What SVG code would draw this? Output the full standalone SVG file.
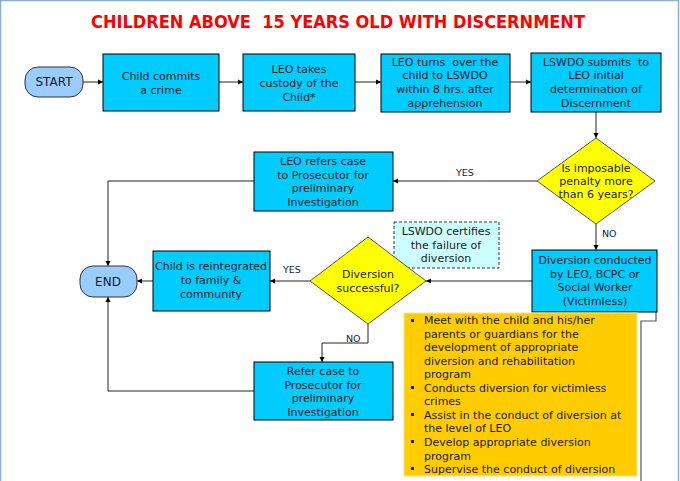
<svg xmlns="http://www.w3.org/2000/svg" width="680" height="481" viewBox="0 0 680 481">
<defs>
<marker id="ah" markerWidth="6" markerHeight="6" refX="5" refY="3" orient="auto" markerUnits="userSpaceOnUse">
<path d="M0,0.5 L5,3 L0,5.5 z" fill="#000"/>
</marker>
<style>
.box{fill:#00CCFF;stroke:#000;stroke-width:1}
.term{fill:#99CCFF;stroke:#333;stroke-width:1}
.dia{fill:#FFFF00;stroke:#555;stroke-width:1}
.note{fill:#CCFFFF;stroke:#333;stroke-width:1;stroke-dasharray:3,2}
.t{font-family:"DejaVu Sans",Verdana,sans-serif;font-size:11px;fill:#1a1a1a;text-anchor:middle}
.tl{font-family:"DejaVu Sans",Verdana,sans-serif;font-size:11px;fill:#1a1a1a}
.lb{font-family:"DejaVu Sans",Verdana,sans-serif;font-size:9.5px;fill:#1a1a40}
.c{fill:none;stroke:#222;stroke-width:1}
</style>
</defs>
<rect width="680" height="481" fill="#fff"/>
<path d="M0.5,481 V0.5 H678.5 V481" fill="none" stroke="#8AAEDB" stroke-width="1.5"/>
<text x="338" y="28" font-family="DejaVu Sans,Verdana,sans-serif" font-weight="bold" font-size="17" fill="#FF0000" text-anchor="middle" textLength="494" lengthAdjust="spacingAndGlyphs" xml:space="preserve">CHILDREN ABOVE  15 YEARS OLD WITH DISCERNMENT</text>

<g id="connectors">
<path class="c" d="M83,82 H103" marker-end="url(#ah)"/>
<path class="c" d="M219,82 H243" marker-end="url(#ah)"/>
<path class="c" d="M355,82 H381" marker-end="url(#ah)"/>
<path class="c" d="M510,82 H531" marker-end="url(#ah)"/>
<path class="c" d="M596,112 V138" marker-end="url(#ah)"/>
<path class="c" d="M537,181 H393" marker-end="url(#ah)"/>
<path class="c" d="M596,224 V250" marker-end="url(#ah)"/>
<path class="c" d="M254,181 H108 V266" marker-end="url(#ah)"/>
<path class="c" d="M532,281 H426" marker-end="url(#ah)"/>
<path class="c" d="M310,281 H270" marker-end="url(#ah)"/>
<path class="c" d="M153,281 H137" marker-end="url(#ah)"/>
<path class="c" d="M368,324 V343 H322 V362" marker-end="url(#ah)"/>
<path class="c" d="M254,391 H108 V297" marker-end="url(#ah)"/>
<path d="M656,312 V321 H641 V481" fill="none" stroke="#555" stroke-width="1.2"/>
<text class="lb" x="456" y="176">YES</text>
<text class="lb" x="602" y="237">NO</text>
<text class="lb" x="283" y="273">YES</text>
<text class="lb" x="346" y="342">NO</text>
</g>

<g id="start">
<rect class="term" x="25" y="67" width="58" height="30" rx="13"/>
<text class="t" x="54" y="86" style="font-size:12px">START</text>
</g>
<g id="child-commits">
<rect class="box" x="103" y="54" width="116" height="57"/>
<text class="t" x="161" y="80">Child commits</text>
<text class="t" x="161" y="94">a crime</text>
</g>
<g id="leo-custody">
<rect class="box" x="243" y="54" width="112" height="57"/>
<text class="t" x="299" y="73">LEO takes</text>
<text class="t" x="299" y="87">custody of the</text>
<text class="t" x="299" y="101">Child*</text>
</g>
<g id="leo-turns">
<rect class="box" x="381" y="54" width="129" height="58"/>
<text class="t" x="445" y="66" xml:space="preserve">LEO turns  over the</text>
<text class="t" x="445" y="79">child to LSWDO</text>
<text class="t" x="445" y="93">within 8 hrs. after</text>
<text class="t" x="445" y="107">apprehension</text>
</g>
<g id="lswdo-submits">
<rect class="box" x="531" y="53" width="130" height="59"/>
<text class="t" x="596" y="66" xml:space="preserve">LSWDO submits  to</text>
<text class="t" x="596" y="79">LEO initial</text>
<text class="t" x="596" y="93">determination of</text>
<text class="t" x="596" y="107">Discernment</text>
</g>
<g id="penalty-decision">
<polygon class="dia" points="596,138 655,181 596,224 537,181"/>
<text class="t" x="596" y="172">Is imposable</text>
<text class="t" x="596" y="185">penalty more</text>
<text class="t" x="596" y="198">than 6 years?</text>
</g>
<g id="leo-refers">
<rect class="box" x="254" y="152" width="139" height="59"/>
<text class="t" x="323" y="165">LEO refers case</text>
<text class="t" x="323" y="179">to Prosecutor for</text>
<text class="t" x="323" y="192">preliminary</text>
<text class="t" x="323" y="206">Investigation</text>
</g>
<g id="diversion">
<rect class="box" x="532" y="250" width="125" height="62"/>
<text class="t" x="595" y="264">Diversion conducted</text>
<text class="t" x="595" y="278">by LEO, BCPC or</text>
<text class="t" x="595" y="291">Social Worker</text>
<text class="t" x="595" y="305">(Victimless)</text>
</g>
<g id="lswdo-certifies">
<rect class="note" x="394" y="222" width="105" height="46"/>
<text class="t" x="446" y="235">LSWDO certifies</text>
<text class="t" x="446" y="249">the failure of</text>
<text class="t" x="446" y="262">diversion</text>
</g>
<g id="diversion-decision">
<polygon class="dia" points="368,237 426,281 368,324 310,281"/>
<text class="t" x="368" y="278">Diversion</text>
<text class="t" x="368" y="292">successful?</text>
</g>
<g id="reintegrated">
<rect class="box" x="153" y="251" width="117" height="60"/>
<text class="t" x="211" y="270">Child is reintegrated</text>
<text class="t" x="211" y="284">to family &amp;</text>
<text class="t" x="211" y="298">community</text>
</g>
<g id="end">
<rect class="term" x="80" y="266" width="57" height="31" rx="13"/>
<text class="t" x="108" y="286" style="font-size:12px">END</text>
</g>
<g id="refer-case">
<rect class="box" x="254" y="362" width="139" height="58"/>
<text class="t" x="323" y="375">Refer case to</text>
<text class="t" x="323" y="389">Prosecutor for</text>
<text class="t" x="323" y="402">preliminary</text>
<text class="t" x="323" y="416">Investigation</text>
</g>
<g id="duties">
<rect x="404" y="313" width="233" height="163" fill="#FFCC00" stroke="#FFE680" stroke-width="1"/>
<g fill="#1a1a1a">
<rect x="411" y="319" width="3" height="3"/>
<rect x="411" y="386" width="3" height="3"/>
<rect x="411" y="413" width="3" height="3"/>
<rect x="411" y="440" width="3" height="3"/>
<rect x="411" y="467" width="3" height="3"/>
</g>
<text class="tl" x="424" y="324">Meet with the child and his/her</text>
<text class="tl" x="424" y="338">parents or guardians for the</text>
<text class="tl" x="424" y="351">development of appropriate</text>
<text class="tl" x="424" y="365">diversion and rehabilitation</text>
<text class="tl" x="424" y="378">program</text>
<text class="tl" x="424" y="392">Conducts diversion for victimless</text>
<text class="tl" x="424" y="405">crimes</text>
<text class="tl" x="424" y="419">Assist in the conduct of diversion at</text>
<text class="tl" x="424" y="432">the level of LEO</text>
<text class="tl" x="424" y="446">Develop appropriate diversion</text>
<text class="tl" x="424" y="460">program</text>
<text class="tl" x="424" y="473">Supervise the conduct of diversion</text>
</g>
</svg>
